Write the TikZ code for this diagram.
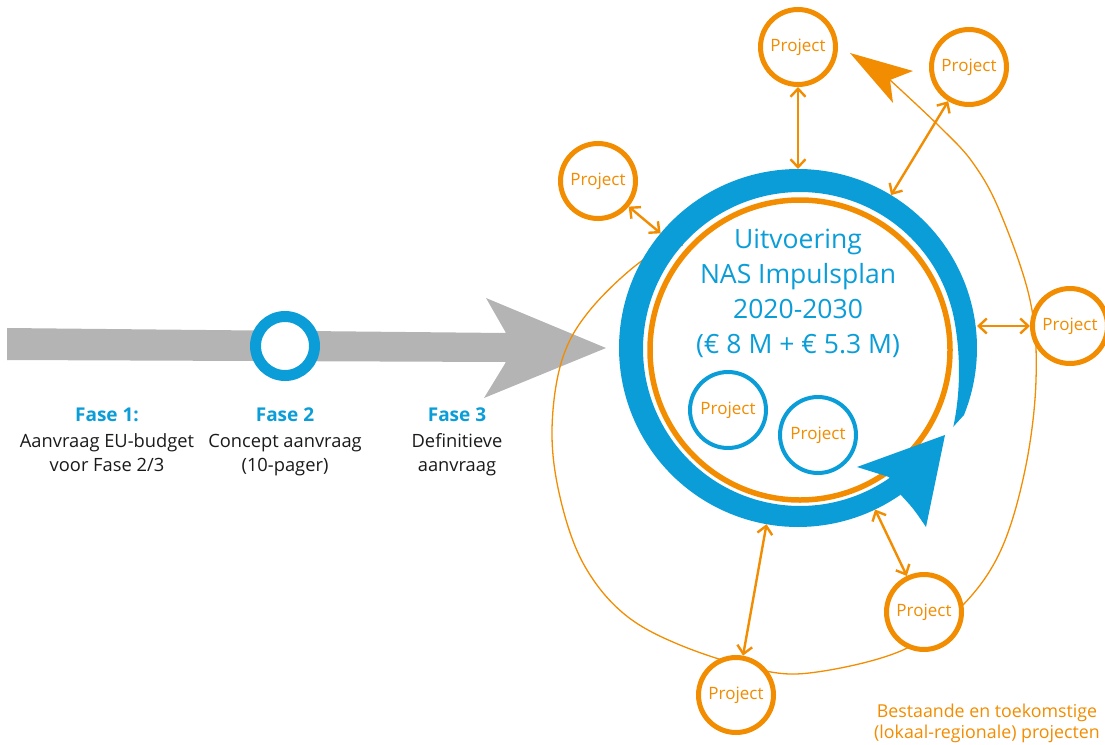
\documentclass[tikz,border=0pt]{standalone}
\usepackage{fontspec}
\setmainfont{Open Sans}
\usetikzlibrary{arrows.meta}
\definecolor{nblue}{RGB}{10,157,216}
\definecolor{norange}{RGB}{242,140,0}
\definecolor{ngray}{RGB}{180,180,180}
\definecolor{ntext}{RGB}{26,26,26}
\begin{document}
\begin{tikzpicture}[x=1pt,y=-1pt,
  proj/.style={circle, draw=norange, line width=5pt, fill=white, minimum size=75pt, inner sep=0pt, text=norange, font=\fontsize{17}{17}\selectfont},
  bproj/.style={circle, draw=nblue, line width=4pt, fill=white, minimum size=76pt, inner sep=0pt, text=norange, font=\fontsize{17}{17}\selectfont},
  link/.style={draw=norange, line width=2.4pt, {Straight Barb[length=8pt,width=15pt]}-{Straight Barb[length=8pt,width=15pt]}},
  fase/.style={anchor=base, text=nblue, font=\bfseries\fontsize{19}{19}\selectfont},
  desc/.style={anchor=base, text=ntext, font=\fontsize{18.3}{18.3}\selectfont},
  title/.style={anchor=base, text=nblue, font=\fontsize{26.5}{26.5}\selectfont},
  note/.style={anchor=base, text=norange, font=\fontsize{17.8}{17.8}\selectfont},
]
\useasboundingbox (0,0) rectangle (1105,744);

% grey process arrow
\fill[ngray] (7,328) -- (506,333) -- (486,298) -- (606,348) -- (484,398) -- (506,362) -- (7,360) -- cycle;
\node[circle, draw=nblue, line width=11pt, fill=white, minimum size=59pt, inner sep=0pt] (f2dot) at (285,346) {};

% phase labels
\node[fase] (f1t) at (107,421) {Fase 1:};
\node[desc] (f1a) at (107,447) {Aanvraag EU-budget};
\node[desc] (f1b) at (107,471) {voor Fase 2/3};
\node[fase] (f2t) at (285,421) {Fase 2};
\node[desc] (f2a) at (285,447) {Concept aanvraag};
\node[desc] (f2b) at (285,471) {(10-pager)};
\node[fase] (f3t) at (457,421) {Fase 3};
\node[desc] (f3a) at (457,447) {Definitieve};
\node[desc] (f3b) at (457,471) {aanvraag};

% thin orange cycle curve
\coordinate (crvend) at (890,80);
\draw[norange, line width=1.3pt] plot[smooth, tension=0.6] coordinates {
 (683,245) (643,260) (590,310) (562,360) (552,430) (560,497) (583,563) (623,613)
 (680,645) (760,670) (817,672) (903,650) (960,608) (1000,552) (1025,470) (1036,380)
 (1030,300) (1000,212) (973,163) (940,127) (crvend)};
\fill[norange] (crvend) -- (913,71) -- (850,53) -- (893,103) -- cycle;

% inner orange ring
\node[circle, draw=norange, line width=5.5pt, minimum size=300pt, inner sep=0pt] (inner) at (800,350) {};

% blue ring with arrow
\node[circle, minimum size=358pt, inner sep=0pt, outer sep=0pt] (core) at (798,348) {};
\fill[nblue] plot[domain=-305:22, samples=160] ({798+179*cos(\x)},{348+179*sin(\x)})
  -- (953,427)
  -- plot[domain=27:-10, samples=40] ({800+(157+15*((\x+10)/37)^2)*cos(\x)},{349+(157+15*((\x+10)/37)^2)*sin(\x)})
  -- plot[domain=-10:-305, samples=160] ({800+157*cos(\x)},{349+157*sin(\x)})
  -- cycle;
\fill[nblue] (889,477) -- (857,467) -- (945,435) -- (926,527) .. controls (913,508) .. (899,493) -- cycle;

% title
\node[title] (t1) at (798,248) {Uitvoering};
\node[title] (t2) at (798,283) {NAS Impulsplan};
\node[title] (t3) at (798,318) {2020-2030};
\node[title] (t4) at (798,353) {(€ 8 M + € 5.3 M)};

% inner projects
\node[bproj] (ip1) at (728,410) {Project};
\node[bproj] (ip2) at (818,435) {Project};

% outer projects
\node[proj] (ptop) at (798,47) {Project};
\node[proj] (ptr) at (969,67) {Project};
\node[proj] (pleft) at (598,181) {Project};
\node[proj] (pright) at (1070,326) {Project};
\node[proj] (pbr) at (924,612) {Project};
\node[proj] (pbot) at (736,695) {Project};

% links
\draw[link] (ptop) -- (core);
\draw[link] (ptr) -- (core);
\draw[link] (pleft) -- (core);
\draw[link] (pright.west) -- (pright.west -| core.east);
\draw[link] (pbr) -- (core);
\draw[link] (pbot) -- (core);

% note
\node[note] (n1) at (987,717) {Bestaande en toekomstige};
\node[note] (n2) at (987,738) {(lokaal-regionale) projecten};
\end{tikzpicture}
\end{document}
